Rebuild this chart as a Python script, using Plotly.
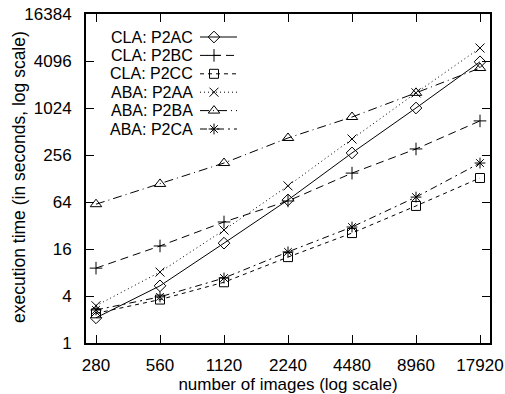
import math
import plotly.graph_objects as go

# Number of images processed
images = [280, 560, 1120, 2240, 4480, 8960, 17920]

# Execution time in seconds for each algorithm
cla_p2ac = [2.1, 5.4, 19, 68, 272, 1024, 4000]
cla_p2bc = [9.1, 17.5, 35.5, 66, 150, 306, 700]
cla_p2cc = [2.4, 3.6, 6.0, 12.6, 25.6, 57, 130]
aba_p2aa = [3.0, 8.1, 28, 103, 410, 1600, 6000]
aba_p2ba = [60, 109, 202, 423, 785, 1600, 3330]
aba_p2ca = [2.65, 3.9, 6.8, 14.7, 30.6, 74, 202]

x_ticks = [280, 560, 1120, 2240, 4480, 8960, 17920]
y_ticks = [1, 4, 16, 64, 256, 1024, 4096, 16384]

series = [
    ("CLA: P2AC", cla_p2ac, "diamond-open", "solid", 9),
    ("CLA: P2BC", cla_p2bc, "cross-thin-open", "8px,5px", 9),
    ("CLA: P2CC", cla_p2cc, "square-open", "4px,4px", 9),
    ("ABA: P2AA", aba_p2aa, "x-thin-open", "1px,3px", 9),
    ("ABA: P2BA", aba_p2ba, "triangle-up-open", "9px,4px,1px,4px", 10),
    ("ABA: P2CA", aba_p2ca, "asterisk-open", "7px,4px,2px,4px", 9),
]

FONT = "Liberation Sans, Arial, Helvetica, sans-serif"

fig = go.Figure()
for name, vals, sym, dash, size in series:
    fig.add_trace(go.Scatter(
        x=images, y=vals, mode="lines+markers", name=name,
        line=dict(color="black", width=1, dash=dash),
        marker=dict(symbol=sym, size=size, color="black",
                    line=dict(color="black", width=1)),
        showlegend=False,
    ))

# Key: label on the left, line sample with marker on the right
# (x2/y2 form a pixel-like overlay grid spanning the plot area)
row_y = [37, 55.4, 73.8, 92.2, 110.6, 129]
for (name, vals, sym, dash, size), ry in zip(series, row_y):
    fig.add_trace(go.Scatter(
        x=[200, 237], y=[ry, ry], mode="lines", xaxis="x2", yaxis="y2",
        line=dict(color="black", width=1, dash=dash), showlegend=False,
        hoverinfo="skip",
    ))
    fig.add_trace(go.Scatter(
        x=[214], y=[ry], mode="markers", xaxis="x2", yaxis="y2",
        marker=dict(symbol=sym, size=size, color="black",
                    line=dict(color="black", width=1)),
        showlegend=False, hoverinfo="skip",
    ))
    fig.add_annotation(x=194, y=ry, xref="x2", yref="y2", text=name,
                       showarrow=False, xanchor="right", yanchor="middle",
                       borderpad=0,
                       font=dict(family=FONT, size=16, color="black"))

# Vertical axis title, placed close to the tick labels
fig.add_annotation(x=(19 - 86) / 404, y=(343 - 177) / 329,
                   xref="paper", yref="paper",
                   text="execution time (in seconds, log scale)",
                   textangle=-90, showarrow=False,
                   xanchor="center", yanchor="middle",
                   font=dict(family=FONT, size=17.5, color="black"))

pad = 10 / 64 * math.log10(2)
fig.update_layout(
    width=505, height=394,
    margin=dict(l=86, r=15, t=14, b=51),
    paper_bgcolor="white", plot_bgcolor="white",
    font=dict(family=FONT, size=17, color="black"),
    xaxis=dict(
        type="log", automargin=False,
        range=[math.log10(280) - pad, math.log10(17920) + pad],
        tickvals=x_ticks, ticktext=[str(v) for v in x_ticks],
        ticks="inside", ticklen=8, tickwidth=1, tickcolor="black",
        showline=True, linecolor="black", linewidth=2, mirror="ticks",
        showgrid=False, zeroline=False, ticklabelstandoff=6,
        title=dict(text="number of images (log scale)", standoff=0,
                   font=dict(size=17)),
        tickfont=dict(size=17),
    ),
    yaxis=dict(
        type="log", automargin=False,
        range=[0, math.log10(16384)],
        tickvals=y_ticks, ticktext=[str(v) for v in y_ticks],
        ticks="inside", ticklen=8, tickwidth=1, tickcolor="black",
        showline=True, linecolor="black", linewidth=2, mirror="ticks",
        showgrid=False, zeroline=False, ticklabelstandoff=9,
        tickfont=dict(size=17),
    ),
    xaxis2=dict(range=[86, 490], overlaying="x", visible=False,
                fixedrange=True),
    yaxis2=dict(range=[343, 14], overlaying="y", visible=False,
                fixedrange=True),
)

fig.write_html("out.html")
